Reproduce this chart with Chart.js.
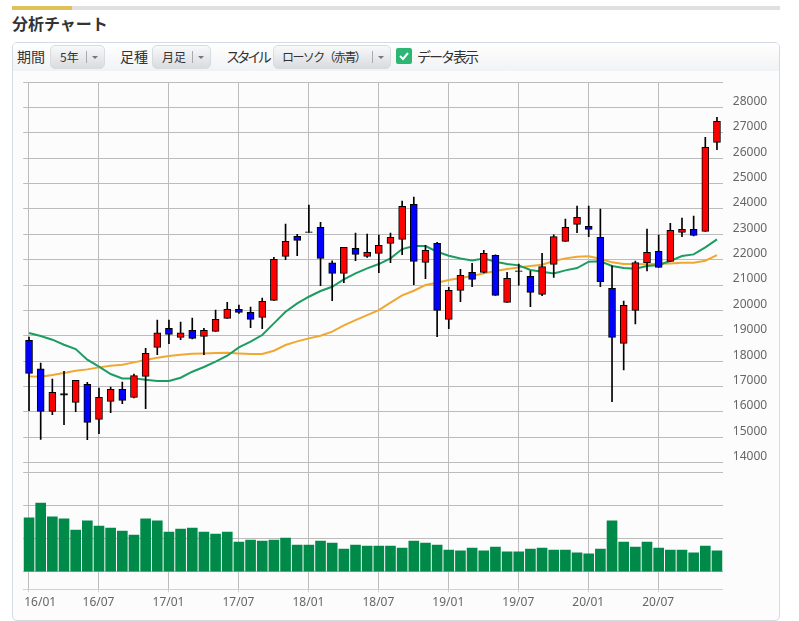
<!DOCTYPE html>
<html lang="ja">
<head>
<meta charset="utf-8">
<title>分析チャート</title>
<script src="https://cdn.jsdelivr.net/npm/chart.js@4"></script>
<style>
html,body{margin:0;padding:0;background:#fff;width:799px;height:621px;overflow:hidden;font-family:"Noto Sans CJK JP","Noto Sans",sans-serif;color:#333}
.rule{position:absolute;left:12px;top:6px;width:768px;height:4px;background:#e0e0e0}
.rule i{display:block;width:60px;height:4px;background:#e2c15a}
h1{position:absolute;left:12px;top:11px;margin:0;font-size:16px;line-height:24px;font-weight:700;color:#333}
.panel{position:absolute;left:12px;top:42px;width:766px;height:577px;border:1px solid #d3dae5;border-radius:5px;background:#fcfcfd;overflow:hidden}
.bar{position:absolute;left:0;top:0;right:0;height:28px;background:linear-gradient(#fff,#f1f2f4)}
.lb{position:absolute;top:3px;font-size:14px;line-height:20px;color:#333;white-space:nowrap}
.sel{position:absolute;top:2px;height:22px;border:1px solid #d8dbe0;border-radius:5px;background:linear-gradient(#f8f9fa,#d9dbdf);font-size:12px;line-height:21px;color:#333;box-sizing:content-box;white-space:nowrap}
.sel span{position:absolute;left:9px;top:0}
.sel s{position:absolute;right:17px;top:5px;height:12px;width:0;border-left:1px solid #aaa}
.sel b{position:absolute;right:6px;top:10px;width:0;height:0;border:3px solid transparent;border-top:3px solid #777;border-bottom:0}
.chk{position:absolute;left:383px;top:5px;width:16px;height:16px;border-radius:2px;background:#2bb673}
.chk svg{position:absolute;left:2px;top:2px}
canvas{position:absolute;left:0;top:0}
</style>
</head>
<body>
<div class="rule"><i></i></div>
<h1>分析チャート</h1>
<div class="panel">
  <div class="bar">
    <div class="lb" style="left:4px">期間</div>
    <div class="sel" style="left:37px;width:53px"><span>5年</span><s></s><b></b></div>
    <div class="lb" style="left:107px">足種</div>
    <div class="sel" style="left:139px;width:57px"><span>月足</span><s></s><b></b></div>
    <div class="lb" style="left:213px;letter-spacing:-3.4px">スタイル</div>
    <div class="sel" style="left:260px;width:116px"><span style="letter-spacing:-1.6px;left:8px">ローソク（赤青）</span><s></s><b></b></div>
    <div class="chk"><svg width="12" height="12" viewBox="0 0 12 12"><path d="M2 6l3 3 5-6" fill="none" stroke="#fff" stroke-width="2"/></svg></div>
    <div class="lb" style="left:404px;letter-spacing:-2px">データ表示</div>
  </div>
</div>
<canvas id="c" width="799" height="621"></canvas>
<script>
const categories = ["16/01","16/02","16/03","16/04","16/05","16/06","16/07","16/08","16/09","16/10","16/11","16/12",
"17/01","17/02","17/03","17/04","17/05","17/06","17/07","17/08","17/09","17/10","17/11","17/12",
"18/01","18/02","18/03","18/04","18/05","18/06","18/07","18/08","18/09","18/10","18/11","18/12",
"19/01","19/02","19/03","19/04","19/05","19/06","19/07","19/08","19/09","19/10","19/11","19/12",
"20/01","20/02","20/03","20/04","20/05","20/06","20/07","20/08","20/09","20/10","20/11","20/12"];
const opens = [18820,17704,16024,16720,16378,17087,15709,16418,16890,16575,17402,18545,
19293,18939,19214,18978,19175,19687,20041,19923,19726,20396,22129,22917,
23073,23271,21880,21459,22444,22129,22247,22641,22799,24177,21893,22641,
19648,20790,21499,21499,22169,20317,21540,21342,20633,21815,22721,23390,
23312,22878,20870,18703,20003,21881,22327,21933,23075,23194,23115,26620];
const closes = [17520,16024,16772,16666,17245,15590,16575,16890,16457,17429,18308,19122,
19057,19122,18899,19214,19648,20041,19923,19648,20357,22011,22720,22759,
23098,22050,21459,22484,22208,22287,22562,22878,24099,21932,22365,20002,
20790,21381,21223,22247,20593,21263,21560,20712,21723,22905,23272,23666,
23194,21132,18939,20200,21881,22288,21697,23154,23194,22957,26424,27448];
const highs = [18952,17928,17297,17599,17245,17166,16943,16982,17179,17494,18505,19621,
19621,19543,19700,19293,20015,20317,20212,20133,20488,22090,23403,22996,
24151,23468,21958,22484,23048,23009,22969,23048,24309,24466,22562,22681,
20908,21617,21853,22365,22190,21499,21827,21552,22248,22983,23601,24113,
24113,23994,21762,20371,21946,23207,22970,23430,23640,23719,26817,27605];
const lows = [16050,14921,15892,15498,16011,14908,15144,15971,16326,16550,16129,18256,
18689,18847,18880,18256,19175,19687,19884,19319,19280,20396,21998,22155,
23073,20974,20383,21092,21958,22090,21486,21880,22195,21013,21249,18965,
19280,20343,20934,21480,20593,20317,21000,20147,20581,21303,22721,23062,
22905,20935,16405,17653,19465,21552,21697,21933,22905,22940,23115,26332];
const maGreen = [19109,18991,18847,18650,18479,18059,17783,17494,17323,17323,17271,17218,
17218,17350,17586,17770,17980,18216,18545,18768,19030,19490,19950,20278,
20540,20764,20934,21223,21460,21656,21827,22050,22418,22536,22536,22313,
22155,22050,21972,22050,21919,21827,21775,21592,21526,21460,21578,21670,
21920,21933,21749,21670,21644,21749,21789,21946,22143,22209,22485,22800];
const maOrange = [17402,17389,17455,17534,17625,17678,17757,17822,17862,17954,18046,18138,
18203,18256,18295,18308,18321,18335,18308,18282,18282,18413,18637,18781,
18899,19004,19162,19411,19621,19818,20015,20304,20593,20777,21000,21092,
21197,21276,21354,21460,21551,21630,21696,21749,21802,21946,22051,22117,
22130,22038,21894,21828,21828,21815,21841,21854,21881,21881,21959,22182];
const volumes = [32.4,41.4,33.0,31.8,25.1,30.6,27.5,26.3,24.5,22.1,31.8,30.6,
23.9,25.7,26.3,23.9,22.7,23.9,17.9,19.1,18.5,19.1,20.3,16.1,
16.1,18.5,17.3,13.7,16.1,15.5,15.5,15.5,14.3,18.5,17.3,16.1,
13.1,12.5,14.3,12.5,14.9,11.9,11.9,13.7,14.3,13.1,13.1,11.3,
10.7,13.7,30.6,17.9,14.9,17.9,14.3,13.1,13.1,11.3,15.5,12.5];
const priceTicks = [14000,15000,16000,17000,18000,19000,20000,21000,22000,23000,24000,25000,26000,27000,28000,29000];
const priceUnlabelled = [29000];
const volumeTicks = [0,20,40,60];
const volumeLabels = {0:"0",20:"20百万",40:"40百万"};
const gridIndex = [0,6,12,18,24,30,36,42,48,54];

const GRID = "#bcbcbc", AXIS = "#c4d3e4", TXT = "#666666";
const tickFont = {family:'"Noto Sans","Noto Sans CJK JP",sans-serif', size:12};
const bodyColors = opens.map((o,i)=> Math.abs(closes[i]-o) < 80 ? "#000000" : closes[i] >= o ? "#ff0000" : "#0000ff");
const pairs = (a,b)=> a.map((v,i)=>[v,b[i]]);

// the first label is pulled inward; the last tick only closes the "inner" alignment
const firstLabelAt = -0.37, closingTick = 59.5;
const xTicks = [firstLabelAt, ...gridIndex, closingTick];

new Chart(document.getElementById("c"), {
  type: "bar",
  data: {
    labels: categories,
    datasets: [
      {label:"出来高", data:volumes, yAxisID:"yVol", backgroundColor:"#008a4a", barThickness:10, grouped:false, order:4},
      {type:"line", label:"移動平均1", data:maGreen, yAxisID:"y", borderColor:"#1d9c62", borderWidth:2, pointRadius:0, tension:0, order:3},
      {type:"line", label:"移動平均2", data:maOrange, yAxisID:"y", borderColor:"#f0a830", borderWidth:2, pointRadius:0, tension:0, order:3},
      {label:"高安", data:pairs(lows,highs), yAxisID:"y", backgroundColor:"#000", barThickness:1, grouped:false, order:2},
      {label:"始終", data:pairs(opens,closes), yAxisID:"y", backgroundColor:bodyColors, borderColor:"#000", borderWidth:1, borderSkipped:false, barThickness:7, grouped:false, order:1}
    ]
  },
  options: {
    responsive:false, animation:false, devicePixelRatio:1,
    layout:{padding:{left:23.2,top:82,right:0,bottom:0}},
    plugins:{legend:{display:false},tooltip:{enabled:false}},
    events:[],
    scales:{
      x:{display:false, type:"category", offset:true, grid:{offset:true}},
      xl:{
        type:"linear", position:"bottom", min:-0.46, max:59.54, offset:false,
        afterBuildTicks:s=>{s.ticks = xTicks.map(v=>({value:v}));},
        afterFit:s=>{s.height = 31.7;},
        border:{display:true,color:AXIS},
        grid:{
          offset:false,
          color:c=> c.tick && gridIndex.includes(c.tick.value) ? GRID : "rgba(0,0,0,0)",
          tickColor:c=> c.tick && gridIndex.includes(c.tick.value) ? AXIS : "rgba(0,0,0,0)",
          tickLength:3, lineWidth:1
        },
        ticks:{
          align:"inner", autoSkip:false, maxRotation:0, color:TXT, font:tickFont, padding:3,
          callback:v=> v===firstLabelAt ? categories[0] : (v>0 && gridIndex.includes(v) ? categories[v] : "")
        }
      },
      yVol:{
        position:"right", weight:0, min:-10.6, max:295,
        afterBuildTicks:s=>{s.ticks = volumeTicks.map(v=>({value:v}));},
        afterFit:s=>{s.width = 0;},
        border:{display:false},
        grid:{color:GRID, lineWidth:1, drawTicks:false},
        ticks:{color:TXT, font:tickFont, padding:10, labelOffset:-6, callback:v=> volumeLabels[v] || ""}
      },
      y:{
        position:"right", weight:1, min:9013, max:29000,
        afterBuildTicks:s=>{s.ticks = priceTicks.map(v=>({value:v}));},
        afterFit:s=>{s.width = 76.2;},
        border:{display:false},
        grid:{color:GRID, lineWidth:1, drawTicks:false},
        ticks:{color:TXT, font:tickFont, padding:10, labelOffset:-6, callback:v=> priceUnlabelled.includes(v) ? "" : String(v)}
      }
    }
  }
});
</script>
</body>
</html>
